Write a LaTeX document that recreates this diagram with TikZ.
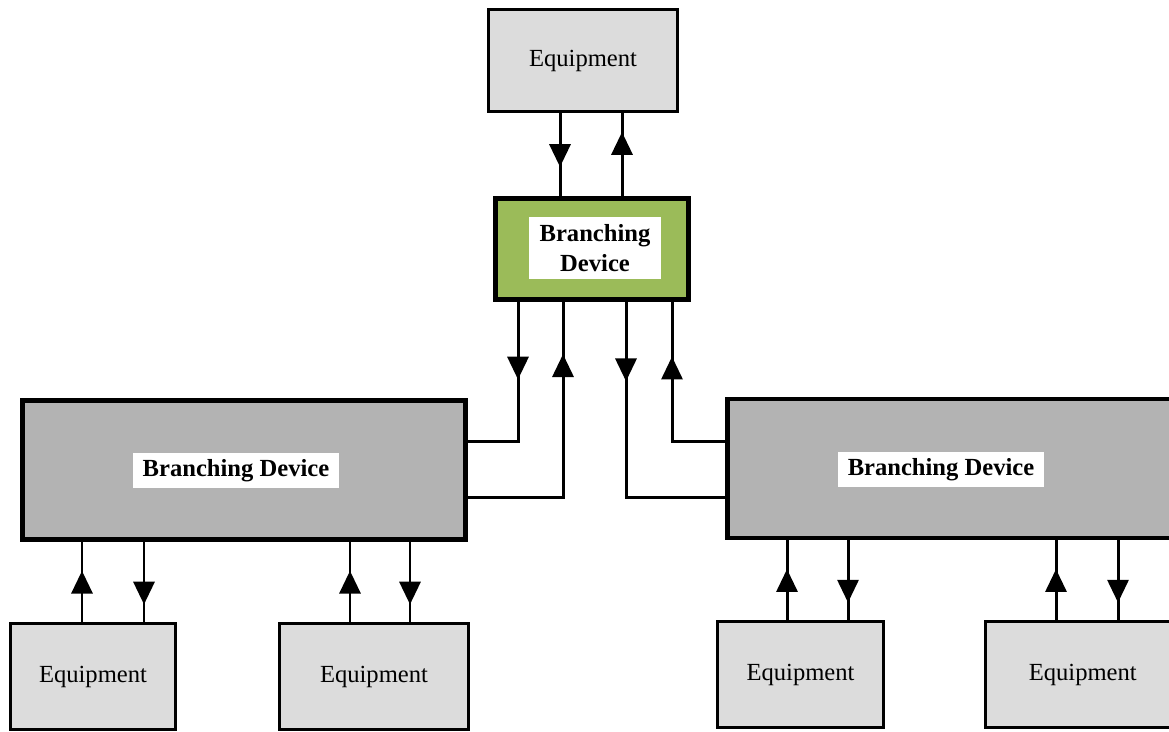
\documentclass[tikz,border=0pt]{standalone}
\usepackage{fontspec}
\setmainfont{Liberation Serif}
\usetikzlibrary{arrows.meta,decorations.markings}

\definecolor{eqgray}{HTML}{DCDCDC}
\definecolor{bdgray}{HTML}{B3B3B3}
\definecolor{bdgreen}{HTML}{9BBB59}

\tikzset{
  equip/.style={draw, line width=1.6pt, fill=eqgray, minimum height=2.12cm,
    inner sep=0pt, font=\fontsize{14}{17}\selectfont},
  branch/.style={draw, line width=2.8pt, fill=bdgray, minimum height=2.78cm, inner sep=0pt},
  tag/.style={fill=white, inner xsep=5.5pt, inner ysep=3.5pt, align=center,
    font=\fontsize{14}{17}\selectfont\bfseries},
  link/.style={line width=1.7pt},
  flow/.style={postaction={decorate}, decoration={markings,
    mark=at position #1 with {\arrow{Triangle[width=12pt,length=13pt]}}}}
}

\begin{document}
\begin{tikzpicture}[x=0.02cm, y=-0.02cm]
            \useasboundingbox (0, 0) rectangle (1169, 731);
            \clip (0, 0) rectangle (1169, 731);
            % top
            \node[equip, minimum width=3.78cm, minimum height=2.04cm] (e0) at (583, 60.5) {Equipment};
            \node[branch, fill=bdgreen, minimum width=3.86cm, minimum height=2.02cm] (b0) at (592, 249) {};
            \node[tag, inner xsep=6pt, inner ysep=4pt] (t0) at (595, 248) {Branching\\Device};
            % middle
            \node[branch, minimum width=8.86cm] (b1) at (244, 470) {};
            \node[tag] (t1) at (236, 470.5) {Branching Device};
            \node[branch, minimum width=9.15cm] (b2) at (956, 468.5) {};
            \node[tag] (t2) at (941, 469.5) {Branching Device};
            % bottom
            \node[equip, minimum width=3.3cm] (e1) at (93, 676.5) {Equipment};
            \node[equip, minimum width=3.78cm] (e2) at (374, 676.5) {Equipment};
            \node[equip, minimum width=3.32cm] (e3) at (800.5, 674.5) {Equipment};
            \node[equip, minimum width=3.89cm] (e4) at (1082.75, 674.5) {Equipment};
            \draw[link, flow=0.65] (e0.south -| 560, 0) -- (b0.north -| 560, 0);
            \draw[link, flow=0.77] (b0.north -| 622, 0) -- (e0.south -| 622, 0);
            \draw[link, flow=0.41] (b0.south -| 518, 0) |- (b1.east |- 0, 441);
            \draw[link, flow=0.82] (b1.east |- 0, 497) -| (b0.south -| 563, 0);
            \draw[link, flow=0.27] (b0.south -| 626, 0) |- (b2.west |- 0, 497);
            \draw[link, flow=0.715] (b2.west |- 0, 441) -| (b0.south -| 672, 0);
            \draw[link, flow=0.64] (e1.north -| 82, 0) -- (b1.south -| 82, 0);
            \draw[link, flow=0.78] (b1.south -| 144, 0) -- (e1.north -| 144, 0);
            \draw[link, flow=0.64] (e2.north -| 350, 0) -- (b1.south -| 350, 0);
            \draw[link, flow=0.78] (b1.south -| 410, 0) -- (e2.north -| 410, 0);
            \draw[link, flow=0.64] (e3.north -| 787, 0) -- (b2.south -| 787, 0);
            \draw[link, flow=0.78] (b2.south -| 848, 0) -- (e3.north -| 848, 0);
            \draw[link, flow=0.64] (e4.north -| 1056, 0) -- (b2.south -| 1056, 0);
            \draw[link, flow=0.78] (b2.south -| 1118, 0) -- (e4.north -| 1118, 0);
        \end{tikzpicture}
\end{document}
